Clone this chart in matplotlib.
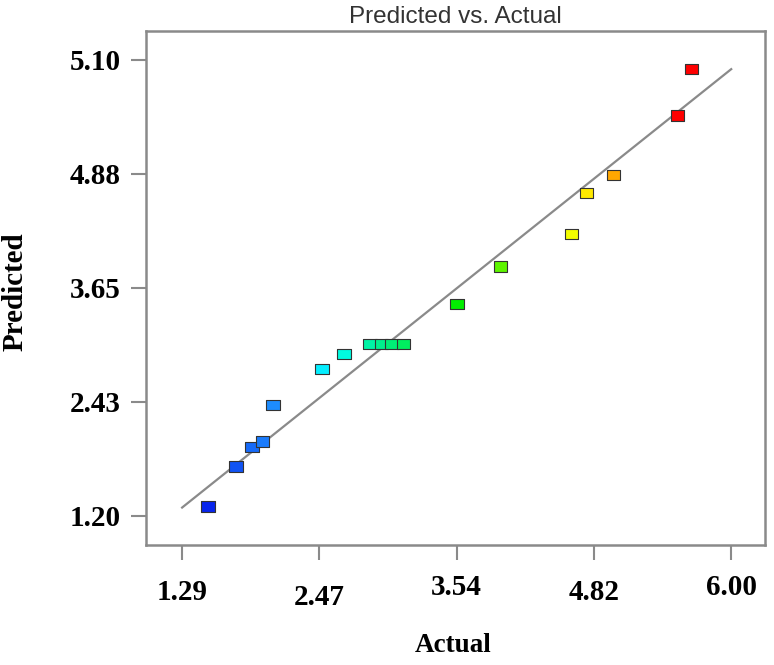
import numpy as np
import matplotlib
matplotlib.use("Agg")
import matplotlib.pyplot as plt
from matplotlib.colors import LinearSegmentedColormap
from matplotlib.path import Path
import matplotlib.transforms as mtransforms

# values
actual = [1.51, 1.75, 1.89, 1.98, 2.07, 2.49, 2.68, 2.90, 3.00, 3.09, 3.19,
          3.65, 4.02, 4.63, 4.76, 4.99, 5.54, 5.66]
predicted = [1.30, 1.73, 1.94, 2.00, 2.39, 2.78, 2.94, 3.05, 3.05, 3.05, 3.05,
             3.48, 3.88, 4.23, 4.67, 4.86, 5.50, 6.00]
x_ticks = [1.29, 2.4675, 3.645, 4.8225, 6.00]
x_tick_labels = ["1.29", "2.47", "3.54", "4.82", "6.00"]
y_ticks = [1.20, 2.425, 3.65, 4.875, 6.10]
y_tick_labels = ["1.20", "2.43", "3.65", "4.88", "5.10"]
x_min, x_max = 1.29, 6.00

fig = plt.figure(figsize=(7.74, 6.65), dpi=100)
ax = fig.add_axes([0.1886, 0.1805, 0.7998, 0.7729])

cmap = LinearSegmentedColormap.from_list("de", [
    (0.0, "#0000e6"), (0.17, "#1e90ff"), (0.27, "#00ffff"), (0.37, "#00ee80"),
    (0.5, "#00ee00"), (0.72, "#ffff00"), (0.79, "#ffa500"), (0.88, "#ff0000"),
    (1.0, "#ff0000")])
t = (np.array(actual) - x_min) / (x_max - x_min)
colors = cmap(t)

# 1:1 line
ax.plot([x_min, x_max], [x_min, x_max], color="#8a8a8a", lw=1.6, zorder=2)

rect = Path([(-1.3, -1), (1.3, -1), (1.3, 1), (-1.3, 1), (-1.3, -1)],
            [Path.MOVETO, Path.LINETO, Path.LINETO, Path.LINETO, Path.CLOSEPOLY])
ax.scatter(actual, predicted, marker=rect, s=95, c=colors,
           edgecolors="#333333", linewidths=0.8, zorder=3)

ax.set_xlim(0.98, 6.29)
ax.set_ylim(0.888, 6.41)
ax.set_xticks(x_ticks)
ax.set_xticklabels(x_tick_labels)
ax.set_yticks(y_ticks)
ax.set_yticklabels(y_tick_labels)

for s in ax.spines.values():
    s.set_color("#8a8a8a")
    s.set_linewidth(1.8)
ax.tick_params(direction="out", length=11, width=1.5, color="#8a8a8a", pad=11)
ax.tick_params(axis="y", pad=7)

for lab in ax.get_xticklabels() + ax.get_yticklabels():
    lab.set_fontfamily("Liberation Serif")
    lab.set_fontweight("bold")
    lab.set_fontsize(21)

# the x labels sit at slightly different heights in the reference
shifts = [-3, -8, 2, -3, 2]
for lab, dy in zip(ax.get_xticklabels(), shifts):
    lab.set_transform(lab.get_transform() +
                      mtransforms.ScaledTranslation(0, dy / 100, fig.dpi_scale_trans))

ax.set_title("Predicted vs. Actual", fontfamily="Liberation Sans", fontsize=17.5,
             color="#333333", pad=6)
fig.text(453 / 774, 1 - 646 / 665, "Actual", ha="center", va="center",
         fontfamily="Liberation Serif", fontweight="bold", fontsize=19.5)
fig.text(15 / 774, 1 - 292 / 665, "Predicted", ha="center", va="center", rotation=90,
         fontfamily="Liberation Serif", fontweight="bold", fontsize=21)

fig.savefig("out.png", dpi=100)
